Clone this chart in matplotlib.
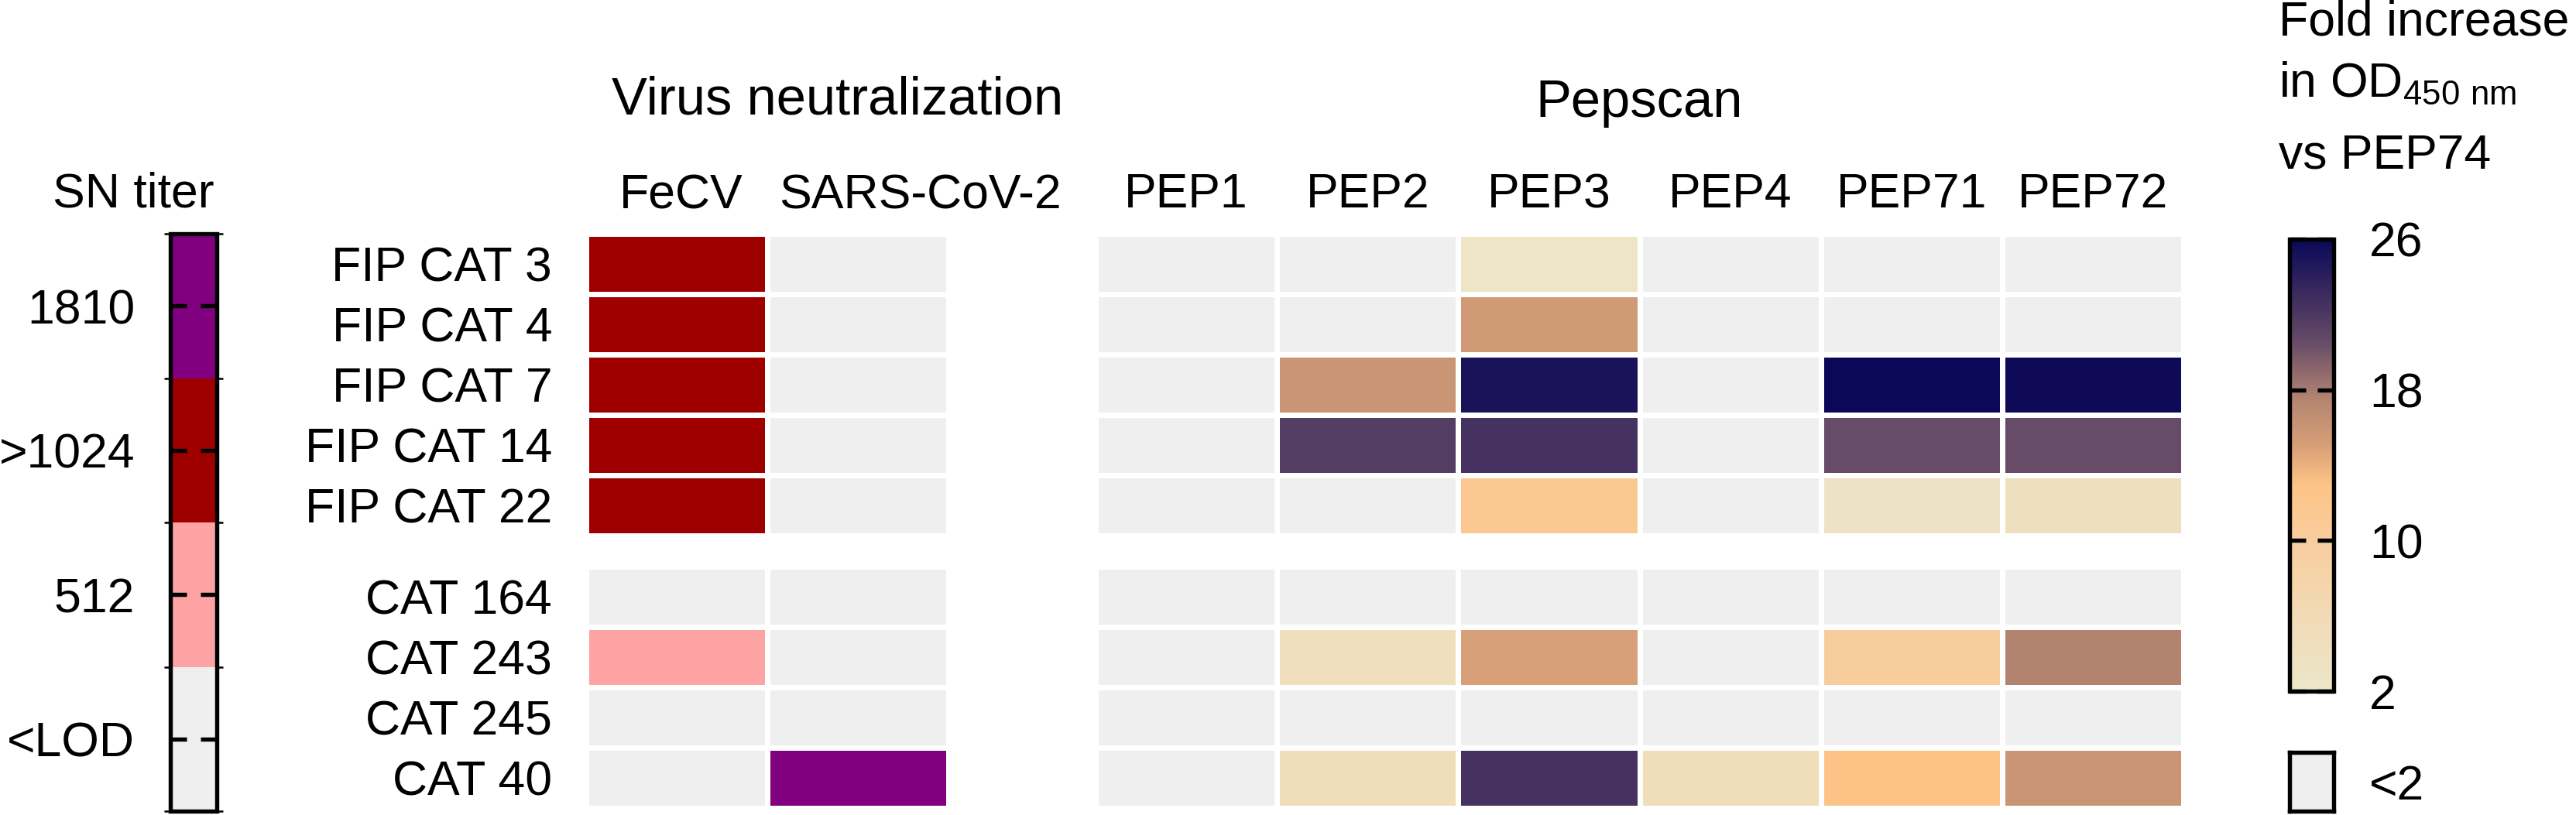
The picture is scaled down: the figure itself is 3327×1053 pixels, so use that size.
import numpy as np
import matplotlib
matplotlib.use("Agg")
import matplotlib.pyplot as plt
from matplotlib.colors import ListedColormap, BoundaryNorm, LinearSegmentedColormap, Normalize
from matplotlib.cm import ScalarMappable

plt.rcParams["font.family"] = ["Liberation Sans", "DejaVu Sans"]
plt.rcParams["mathtext.fontset"] = "custom"
plt.rcParams["mathtext.rm"] = "Liberation Sans"

# ---- data ----
fip_cats = ["FIP CAT 3", "FIP CAT 4", "FIP CAT 7", "FIP CAT 14", "FIP CAT 22"]
ctrl_cats = ["CAT 164", "CAT 243", "CAT 245", "CAT 40"]
viruses = ["FeCV", "SARS-CoV-2"]
peptides = ["PEP1", "PEP2", "PEP3", "PEP4", "PEP71", "PEP72"]

sn_labels = ["<LOD", "512", ">1024", "1810"]
# SN titer class (0=<LOD, 1=512, 2=>1024, 3=1810), columns FeCV, SARS-CoV-2
sn_fip = [[2, 0], [2, 0], [2, 0], [2, 0], [2, 0]]
sn_ctrl = [[0, 0], [1, 0], [0, 0], [0, 3]]

nan = np.nan
# fold increase in OD450 vs PEP74 (nan = <2)
pep_fip = [
    [nan, nan, 2.5, nan, nan, nan],
    [nan, nan, 15.5, nan, nan, nan],
    [nan, 16, 25, nan, 26, 25.8],
    [nan, 21.5, 22.5, nan, 20.5, 20.5],
    [nan, nan, 11.5, nan, 3, 4],
]
pep_ctrl = [
    [nan, nan, nan, nan, nan, nan],
    [nan, 4.5, 15, nan, 10, 17.5],
    [nan, nan, nan, nan, nan, nan],
    [nan, 5, 22.5, 5, 13, 16],
]
fold_ticks = [2, 10, 18, 26]

# ---- colours ----
GRAY = "#efefef"
sn_cmap = ListedColormap([GRAY, "#fea3a3", "#9e0000", "#800080"])
sn_norm = BoundaryNorm([0, 1, 2, 3, 4], 4)

vmin, vmax = 2, 26
nodes = [(2, "#ece6c8"), (6, "#f1dab6"), (10, "#f8cd9e"), (13, "#fdc386"),
         (15, "#d8a078"), (17.5, "#b38570"), (20.5, "#684c68"),
         (22.5, "#453260"), (26, "#0b0858")]
pep_cmap = LinearSegmentedColormap.from_list(
    "pep", [((v - vmin) / (vmax - vmin), c) for v, c in nodes])
pep_cmap.set_bad(GRAY)
pep_norm = Normalize(vmin, vmax)

W, H = 3327, 1053
fig = plt.figure(figsize=(W / 300, H / 300), dpi=300)


def px_axes(x0, y0, x1, y1):
    # pixel box (top-left origin) -> axes
    return fig.add_axes([x0 / W, 1 - y1 / H, (x1 - x0) / W, (y1 - y0) / H])


def heat(ax, data, cmap, norm):
    arr = np.ma.masked_invalid(np.array(data, dtype=float))
    ax.pcolormesh(arr, cmap=cmap, norm=norm, edgecolors="white", linewidth=1.3)
    ax.set_xlim(0, arr.shape[1])
    ax.set_ylim(arr.shape[0], 0)
    for s in ax.spines.values():
        s.set_visible(False)
    ax.set_xticks([])
    ax.set_yticks([])


FS = 15
# left: virus neutralization
ax_l1 = px_axes(757, 302, 1225, 692)
ax_l2 = px_axes(757, 732, 1225, 1044)
heat(ax_l1, sn_fip, sn_cmap, sn_norm)
heat(ax_l2, sn_ctrl, sn_cmap, sn_norm)
for ax, labs in ((ax_l1, fip_cats), (ax_l2, ctrl_cats)):
    ax.set_yticks(np.arange(len(labs)) + 0.5)
    ax.set_yticklabels(labs, fontsize=FS)
    ax.tick_params(axis="y", length=0, pad=10.5)

# right: pepscan
ax_r1 = px_axes(1415, 302, 2820, 692)
ax_r2 = px_axes(1415, 732, 2820, 1044)
heat(ax_r1, pep_fip, pep_cmap, pep_norm)
heat(ax_r2, pep_ctrl, pep_cmap, pep_norm)
ax_r1.xaxis.tick_top()
ax_r1.set_xticks(np.arange(len(peptides)) + 0.5)
ax_r1.set_xticklabels(peptides, fontsize=FS)
ax_r1.tick_params(axis="x", length=0, pad=5)

# column headers of left block
fig.text(880 / W, 1 - 270 / H, viruses[0], fontsize=FS, ha="center", va="baseline")
fig.text(1188 / W, 1 - 270 / H, viruses[1], fontsize=FS, ha="center", va="baseline")
fig.text(1082 / W, 1 - 148 / H, "Virus neutralization", fontsize=16.5,
         ha="center", va="baseline")
fig.text(2117 / W, 1 - 151 / H, "Pepscan", fontsize=16.5, ha="center", va="baseline")

# SN titer legend bar
ax_sn = px_axes(220, 302, 280, 1048)
cb_sn = fig.colorbar(ScalarMappable(norm=sn_norm, cmap=sn_cmap), cax=ax_sn,
                     ticks=[0.5, 1.5, 2.5, 3.5])
cb_sn.set_ticklabels(sn_labels)
cb_sn.outline.set_linewidth(1.3)
ax_sn.yaxis.set_ticks_position("both")
ax_sn.tick_params(direction="in", length=5, width=1.3, labelsize=FS,
                  labelleft=True, labelright=False, pad=11)
fig.text(172 / W, 1 - 268 / H, "SN titer", fontsize=FS, ha="center", va="baseline")

# fold increase colorbar
ax_cb = px_axes(2957, 309, 3014, 893)
cb = fig.colorbar(ScalarMappable(norm=pep_norm, cmap=pep_cmap), cax=ax_cb,
                  ticks=fold_ticks)
cb.outline.set_linewidth(1.3)
ax_cb.yaxis.set_ticks_position("both")
ax_cb.tick_params(direction="in", length=5, width=1.3, labelsize=FS,
                  labelleft=False, labelright=True, pad=11)

# <2 box
ax_lt = px_axes(2957, 972, 3014, 1048)
ax_lt.set_facecolor(GRAY)
for s in ax_lt.spines.values():
    s.set_linewidth(1.3)
ax_lt.set_xticks([])
ax_lt.yaxis.tick_right()
ax_lt.set_ylim(0, 1)
ax_lt.set_yticks([0.5])
ax_lt.set_yticklabels(["<2"], fontsize=FS)
ax_lt.tick_params(axis="y", length=0, pad=11)

for i, line in enumerate(["Fold increase", r"in OD$_{\mathregular{450\ nm}}$", "vs PEP74"]):
    fig.text(2943 / W, 1 - [45, 125, 218][i] / H, line, fontsize=FS,
             ha="left", va="baseline")

fig.savefig("out.png", dpi=300)
